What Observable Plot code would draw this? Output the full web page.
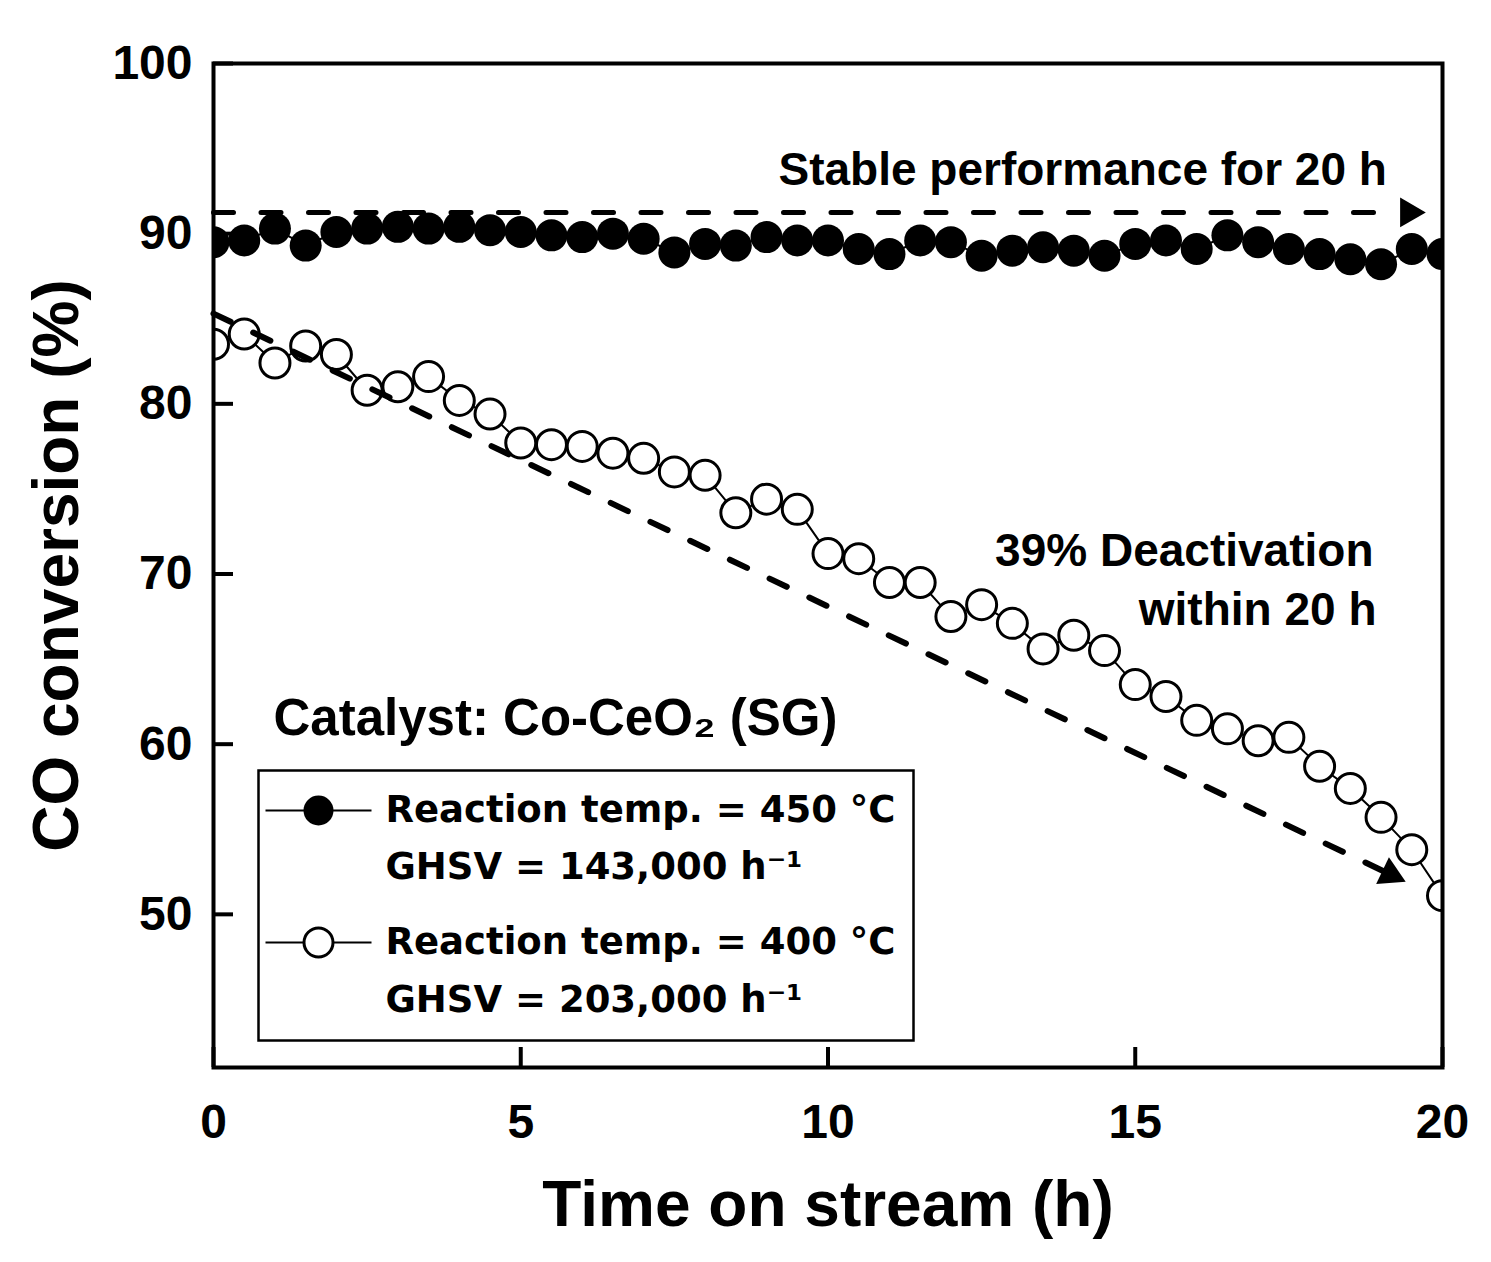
<!DOCTYPE html>
<html>
<head>
<meta charset="utf-8">
<script src="https://cdn.jsdelivr.net/npm/d3@7"></script>
<script src="https://cdn.jsdelivr.net/npm/@observablehq/plot@0.6"></script>
<style>
  html, body { margin: 0; padding: 0; background: #fff; }
</style>
</head>
<body>
<div id="chart"></div>
<script>
// ---- data ----
const time = [0, 0.5, 1, 1.5, 2, 2.5, 3, 3.5, 4, 4.5, 5, 5.5, 6, 6.5, 7, 7.5, 8, 8.5, 9, 9.5,
              10, 10.5, 11, 11.5, 12, 12.5, 13, 13.5, 14, 14.5, 15, 15.5, 16, 16.5, 17, 17.5, 18, 18.5, 19, 19.5, 20];
const conv450 = [89.5, 89.6, 90.3, 89.3, 90.1, 90.3, 90.4, 90.3, 90.4, 90.2, 90.1, 89.9, 89.8, 90.0, 89.7, 88.9,
                 89.4, 89.3, 89.8, 89.6, 89.6, 89.1, 88.8, 89.6, 89.5, 88.7, 89.0, 89.2, 89.0, 88.7,
                 89.4, 89.6, 89.1, 89.9, 89.5, 89.1, 88.8, 88.5, 88.2, 89.1, 88.8];
const conv400 = [83.5, 84.1, 82.4, 83.4, 82.9, 80.8, 81.0, 81.6, 80.2, 79.4, 77.7, 77.6, 77.5, 77.1, 76.8, 76.0,
                 75.8, 73.6, 74.4, 73.8, 71.2, 70.9, 69.5, 69.5, 67.5, 68.2, 67.1, 65.6, 66.4, 65.5,
                 63.5, 62.8, 61.4, 60.9, 60.2, 60.4, 58.7, 57.4, 55.7, 53.8, 51.1];

const xTicks = [0, 5, 10, 15, 20];
const yTicks = [50, 60, 70, 80, 90, 100];

// annotation arrows (data coordinates)
const stableLineX = [0, 19.3];
const stableLineY = [91.25, 91.25];
const stableHead = [{x: 19.45, y: 91.25}];
const deactLineX = [0, 19.15];
const deactLineY = [85.3, 52.35];
const deactHead = [{x: 19.15, y: 52.35}];

const labels = {
  x: "Time on stream (h)",
  y: "CO conversion (%)",
  stable: "Stable performance for 20 h",
  deact1: "39% Deactivation",
  deact2: "within 20 h",
  catalyst: "Catalyst: Co-CeO\u2082 (SG)",
  s1a: "Reaction temp. = 450 \u00B0C",
  s1b: "GHSV = 143,000 h\u207B\u00B9",
  s2a: "Reaction temp. = 400 \u00B0C",
  s2b: "GHSV = 203,000 h\u207B\u00B9"
};

// ---- build tables ----
const d450 = time.map((t, i) => ({t, v: conv450[i]}));
const d400 = time.map((t, i) => ({t, v: conv400[i]}));
const stableLine = stableLineX.map((x, i) => ({x, y: stableLineY[i]}));
const deactLine = deactLineX.map((x, i) => ({x, y: deactLineY[i]}));

const ARIAL = "'Liberation Sans', Arial, Helvetica, sans-serif";
const DEJA = "'DejaVu Sans', 'Liberation Sans', sans-serif";

const legendLine = {draw(ctx) { ctx.moveTo(-53, 0); ctx.lineTo(53, 0); }};

const chart = Plot.plot({
  width: 1491,
  height: 1262,
  marginLeft: 213,
  marginRight: 49,
  marginTop: 63,
  marginBottom: 195,
  style: {fontFamily: ARIAL, fontWeight: "bold", background: "white", color: "black"},
  x: {domain: [0, 20]},
  y: {domain: [41, 100]},
  marks: [
    // series
    Plot.line(d400, {x: "t", y: "v", stroke: "black", strokeWidth: 2, clip: true}),
    Plot.line(d450, {x: "t", y: "v", stroke: "black", strokeWidth: 2, clip: true}),
    Plot.dot(d450, {x: "t", y: "v", r: 16, fill: "black", stroke: "none", clip: true}),
    Plot.dot(d400, {x: "t", y: "v", r: 15, fill: "white", stroke: "black", strokeWidth: 3, clip: true}),

    // dashed annotation arrows
    Plot.line(stableLine, {x: "x", y: "y", stroke: "black", strokeWidth: 5, strokeDasharray: "20,27.5", strokeLinecap: "round"}),
    Plot.dot(stableHead, {x: "x", y: "y", symbol: "triangle", r: 11, rotate: 90, fill: "black", stroke: "none"}),
    Plot.line(deactLine, {x: "x", y: "y", stroke: "black", strokeWidth: 6, strokeDasharray: "19,25", strokeLinecap: "round"}),
    Plot.dot(deactHead, {x: "x", y: "y", symbol: "triangle", r: 11, rotate: 115.5, fill: "black", stroke: "none"}),

    // frame and axes
    Plot.frame({stroke: "black", strokeWidth: 4}),
    Plot.axisX(xTicks, {tickSize: -20, tickPadding: 56, strokeWidth: 4, fontSize: 48, label: null, tickFormat: d => String(d)}),
    Plot.axisY(yTicks, {tickSize: -20, tickPadding: 41, strokeWidth: 4, fontSize: 48, label: null, tickFormat: d => String(d)}),

    // axis titles
    Plot.text([labels.x], {text: d => d, frameAnchor: "bottom", dy: 138, fontSize: 64, textAnchor: "middle", lineAnchor: "middle"}),
    Plot.text([labels.y], {text: d => d, frameAnchor: "left", dx: -156, rotate: -90, fontSize: 64, textAnchor: "middle", lineAnchor: "middle"}),

    // annotations
    Plot.text([labels.stable], {text: d => d, frameAnchor: "top-left", dx: 565, dy: 107, textAnchor: "start", lineAnchor: "middle", fontSize: 46}),
    Plot.text([labels.deact1], {text: d => d, frameAnchor: "top-left", dx: 1160, dy: 488, textAnchor: "end", lineAnchor: "middle", fontSize: 46}),
    Plot.text([labels.deact2], {text: d => d, frameAnchor: "top-left", dx: 1163, dy: 547, textAnchor: "end", lineAnchor: "middle", fontSize: 46}),
    Plot.text([labels.catalyst], {text: d => d, frameAnchor: "top-left", dx: 60, dy: 655, textAnchor: "start", lineAnchor: "middle", fontSize: 51}),

    // legend
    Plot.frame({insetLeft: 45, insetTop: 707, insetRight: 529, insetBottom: 27, stroke: "black", strokeWidth: 2.5}),
    Plot.dot([0], {frameAnchor: "top-left", dx: 105, dy: 747, symbol: legendLine, stroke: "black", strokeWidth: 2, fill: "none"}),
    Plot.dot([0], {frameAnchor: "top-left", dx: 105, dy: 747, r: 15, fill: "black", stroke: "none"}),
    Plot.dot([0], {frameAnchor: "top-left", dx: 105, dy: 879, symbol: legendLine, stroke: "black", strokeWidth: 2, fill: "none"}),
    Plot.dot([0], {frameAnchor: "top-left", dx: 105, dy: 879, r: 14.5, fill: "white", stroke: "black", strokeWidth: 3}),
    Plot.text([labels.s1a], {text: d => d, frameAnchor: "top-left", dx: 172, dy: 747, textAnchor: "start", lineAnchor: "middle", fontSize: 37, fontFamily: DEJA}),
    Plot.text([labels.s1b], {text: d => d, frameAnchor: "top-left", dx: 172, dy: 804, textAnchor: "start", lineAnchor: "middle", fontSize: 37, fontFamily: DEJA}),
    Plot.text([labels.s2a], {text: d => d, frameAnchor: "top-left", dx: 172, dy: 879, textAnchor: "start", lineAnchor: "middle", fontSize: 37, fontFamily: DEJA}),
    Plot.text([labels.s2b], {text: d => d, frameAnchor: "top-left", dx: 172, dy: 937, textAnchor: "start", lineAnchor: "middle", fontSize: 37, fontFamily: DEJA})
  ]
});

document.getElementById("chart").appendChild(chart);
</script>
</body>
</html>
